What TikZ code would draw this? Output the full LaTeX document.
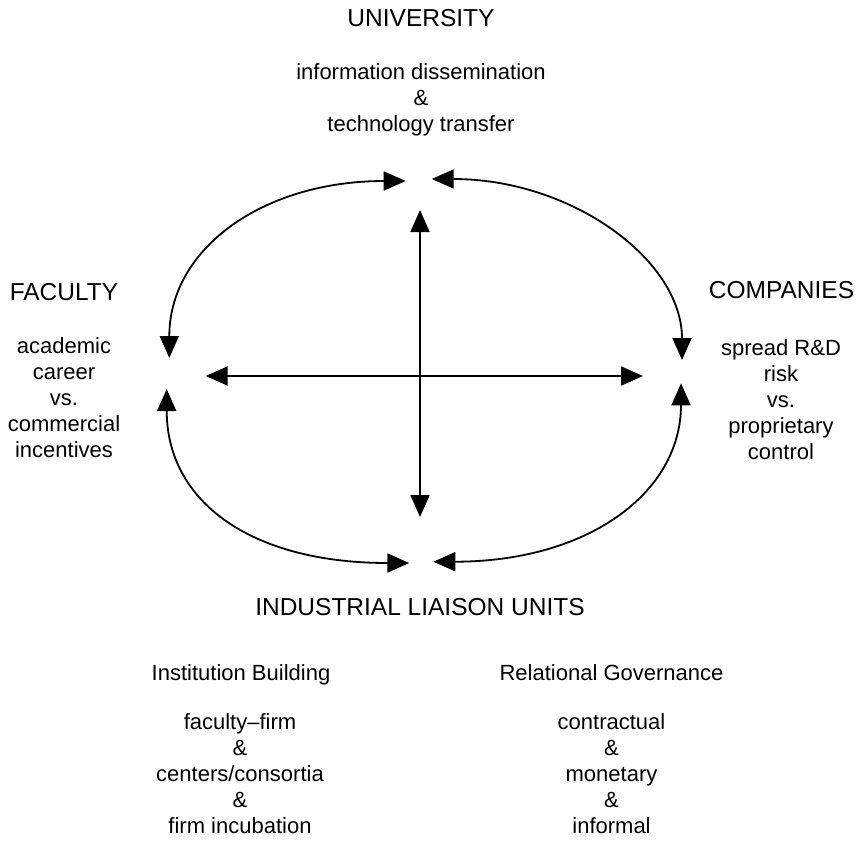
\documentclass[tikz,border=0pt]{standalone}
\usepackage{fontspec}
\setmainfont{Liberation Sans}
\usetikzlibrary{arrows.meta}
\newcommand{\lignes}[1]{\begin{tabular}[t]{@{}c@{}}#1\end{tabular}}
\begin{document}
\begin{tikzpicture}[x=1pt,y=-1pt]
%styles des noeuds
\tikzstyle{titre}=[inner sep=0pt, anchor=base, font=\fontsize{24.5}{28}\selectfont]
\tikzstyle{textw}=[inner sep=0pt, anchor=base, font=\fontsize{22}{26}\selectfont]
\useasboundingbox (0,0) rectangle (861,840);
%titres
\node[titre] (univ) at (421,26.7) {UNIVERSITY};
\node[titre] (fac) at (64,300) {FACULTY};
\node[titre] (comp) at (781.5,298) {COMPANIES};
\node[titre] (ilu) at (420,615) {INDUSTRIAL LIAISON UNITS};
%text
\node[textw] (univT) at (421,80) {\lignes{information dissemination\\ \&\\ technology transfer}};
\node[textw] (facT) at (64,353) {\lignes{academic\\ career\\ vs.\\ commercial\\ incentives}};
\node[textw] (compT) at (781,355) {\lignes{spread R\&D\\ risk\\ vs.\\ proprietary\\ control}};
\node[textw] (inst) at (241,680) {Institution Building};
\node[textw] (rel) at (611.5,680) {Relational Governance};
\node[textw] (instT) at (240,729) {\lignes{faculty--firm\\ \&\\ centers/consortia\\ \&\\ firm incubation}};
\node[textw] (relT) at (611.5,729) {\lignes{contractual\\ \&\\ monetary\\ \&\\ informal}};
%bouts des fleches
\coordinate (uL) at (405.7,181);
\coordinate (uR) at (431.7,179);
\coordinate (uB) at (420,210);
\coordinate (fT) at (169.3,358);
\coordinate (fB) at (166.7,389);
\coordinate (fR) at (205.7,376);
\coordinate (cT) at (682,360);
\coordinate (cB) at (681,383.3);
\coordinate (cL) at (643,376);
\coordinate (iL) at (409.3,563);
\coordinate (iR) at (433.3,561.7);
\coordinate (iT) at (420,517);
%fleches
\tikzstyle{vector}=[{Triangle[length=22pt,width=19pt]}-{Triangle[length=22pt,width=19pt]}, line width=1.8pt]
\draw[vector] (fT) .. controls +(0,-110) and +(-142,0) .. (uL);
\draw[vector] (uR) .. controls +(140,0) and +(0,-100) .. (cT);
\draw[vector] (fB) .. controls +(0,113) and +(-158,0) .. (iL);
\draw[vector] (cB) .. controls +(0,110) and +(154,0) .. (iR);
\draw[vector] (uB) -- (iT);
\draw[vector] (fR) -- (cL);
\end{tikzpicture}
\end{document}
